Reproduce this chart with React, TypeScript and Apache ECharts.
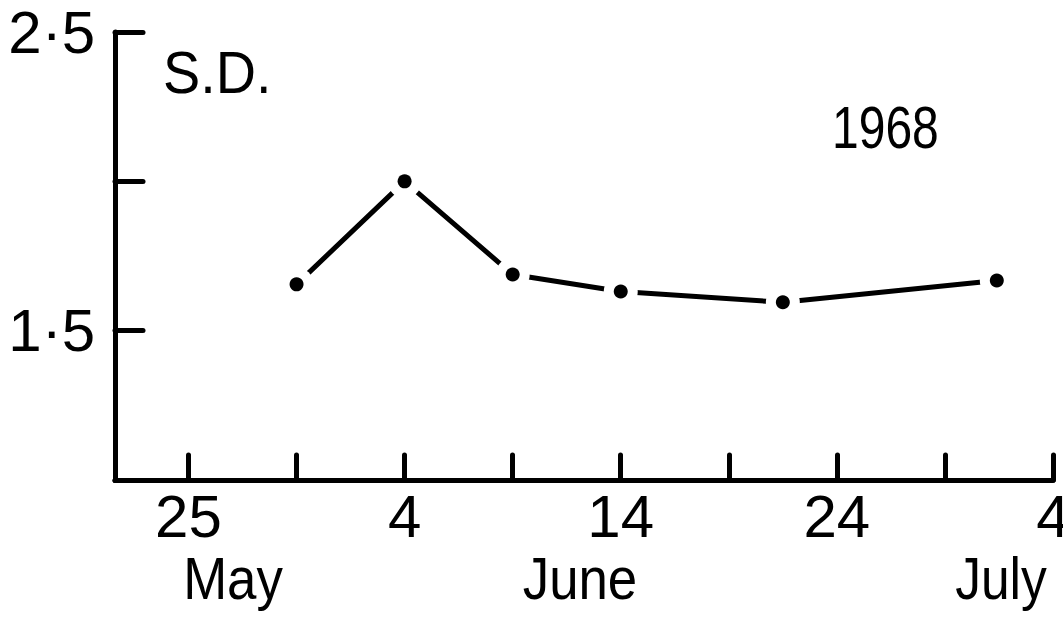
import React, { useEffect, useRef } from "react";
import * as echarts from "echarts";

// Days counted from 25 May 1968 (0 = 25 May, 10 = 4 June, 40 = 4 July)
const sampleDays = [5, 10, 15, 20, 27.5, 37.4];
const sdValues = [1.655, 2.0, 1.688, 1.631, 1.595, 1.668];

const xTickDays = [0, 5, 10, 15, 20, 25, 30, 35, 40];
const xLabelDays = [0, 10, 20, 30, 40];
const xLabelTexts = ["25", "4", "14", "24", "4"];
const monthNames = ["May", "June", "July"];

const yLabelValues = [1.5, 2.5];
const yLabelTexts = ["1·5", "2·5"];

const yTitle = "S.D.";
const yearLabel = "1968";

const FONT = "'Liberation Sans', sans-serif";
const FS = 60;

export default function App() {
  const ref = useRef<HTMLDivElement>(null);
  useEffect(() => {
    if (!ref.current) return;
    const chart = echarts.init(ref.current, null, { renderer: "svg" });
    const pts = sampleDays.map((d, i) => [d, sdValues[i]]);
    const monthX = [233, 580, 1001];
    const monthScale = [0.88, 0.88, 0.86];
    const textStyle = (t: string, align = "left") => ({
      text: t,
      fill: "#000",
      font: `${FS}px ${FONT}`,
      align,
      verticalAlign: "middle",
    });
    chart.setOption({
      animation: false,
      backgroundColor: "#fff",
      grid: {
        left: 115,
        right: 10,
        top: 32,
        bottom: 140,
        containLabel: false,
        outerBoundsMode: "none",
      },
      xAxis: {
        type: "value",
        min: -3.4,
        max: 40,
        splitLine: { show: false },
        axisLine: { show: true, onZero: false, lineStyle: { color: "#000", width: 5 } },
        axisTick: {
          show: true,
          inside: true,
          length: 25,
          customValues: xTickDays,
          lineStyle: { color: "#000", width: 5, cap: "round" },
        },
        axisLabel: {
          show: true,
          customValues: xLabelDays,
          margin: 6,
          color: "#000",
          fontFamily: FONT,
          fontSize: FS,
          hideOverlap: false,
          formatter: (v: number) => {
            const i = xLabelDays.indexOf(v);
            return i >= 0 ? xLabelTexts[i] : "";
          },
        },
      },
      yAxis: {
        type: "value",
        min: 1,
        max: 2.5,
        interval: 0.5,
        splitLine: { show: false },
        axisLine: { show: true, onZero: false, lineStyle: { color: "#000", width: 5 } },
        axisTick: {
          show: true,
          inside: true,
          length: 28,
          lineStyle: { color: "#000", width: 5, cap: "round" },
        },
        axisLabel: {
          show: true,
          customValues: yLabelValues,
          margin: 20,
          color: "#000",
          fontFamily: FONT,
          fontSize: FS,
          formatter: (v: number) => {
            const i = yLabelValues.findIndex((y) => Math.abs(y - v) < 1e-6);
            return i >= 0 ? yLabelTexts[i] : "";
          },
        },
      },
      series: [
        {
          type: "line",
          data: pts,
          symbol: "none",
          lineStyle: { color: "#000", width: 5, cap: "round" },
          z: 1,
        },
        {
          type: "scatter",
          data: pts,
          symbolSize: 34,
          itemStyle: { color: "#fff", opacity: 1 },
          emphasis: { disabled: true },
          z: 2,
        },
        {
          type: "scatter",
          data: pts,
          symbolSize: 14,
          itemStyle: { color: "#000", opacity: 1 },
          emphasis: { disabled: true },
          z: 3,
        },
      ],
      graphic: [
        {
          type: "text",
          x: 163,
          y: 72,
          scaleX: 0.93,
          style: textStyle(yTitle),
        },
        {
          type: "text",
          x: 832,
          y: 128,
          scaleX: 0.8,
          style: textStyle(yearLabel),
        },
        ...monthNames.map((m, i) => ({
          type: "text",
          x: monthX[i],
          y: 578,
          scaleX: monthScale[i],
          style: textStyle(m, "center"),
        })),
      ],
    });
    return () => chart.dispose();
  }, []);
  return (
    <div
      ref={ref}
      style={{ position: "absolute", left: 0, top: 0, width: 1063, height: 620 }}
    />
  );
}
